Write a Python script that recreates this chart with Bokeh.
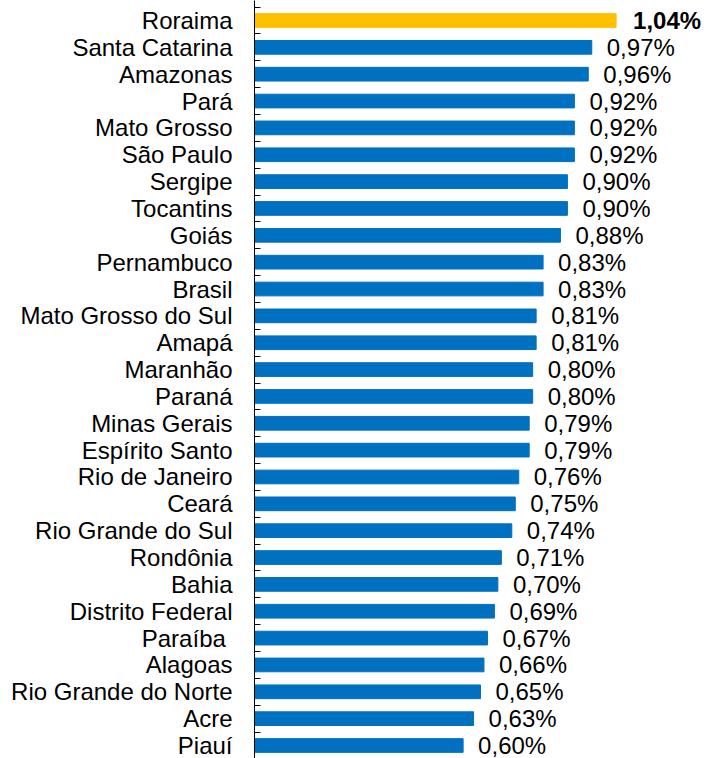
from bokeh.plotting import figure
from bokeh.models import Range1d, FixedTicker, ColumnDataSource
from bokeh.core.properties import value
from bokeh.embed import file_html
from bokeh.resources import INLINE

names = ["Roraima", "Santa Catarina", "Amazonas", "Pará", "Mato Grosso", "São Paulo",
         "Sergipe", "Tocantins", "Goiás", "Pernambuco", "Brasil", "Mato Grosso do Sul",
         "Amapá", "Maranhão", "Paraná", "Minas Gerais", "Espírito Santo", "Rio de Janeiro",
         "Ceará", "Rio Grande do Sul", "Rondônia", "Bahia", "Distrito Federal", "Paraíba ",
         "Alagoas", "Rio Grande do Norte", "Acre", "Piauí"]
values = [1.04, 0.97, 0.96, 0.92, 0.92, 0.92, 0.90, 0.90, 0.88, 0.83, 0.83, 0.81, 0.81, 0.80,
          0.80, 0.79, 0.79, 0.76, 0.75, 0.74, 0.71, 0.70, 0.69, 0.67, 0.66, 0.65, 0.63, 0.60]
highlight = "Roraima"

n = len(names)
ys = list(range(n))
labels = [f"{v:.2f}".replace(".", ",") + "%" for v in values]
colors = ["#FFC000" if nm == highlight else "#0070C0" for nm in names]
styles = ["bold" if nm == highlight else "normal" for nm in names]
offs = [17 if nm == highlight else 15 for nm in names]

src = ColumnDataSource(dict(y=ys, v=values, lbl=labels, c=colors, fs=styles, off=offs))

row_px = 26.85
x_px = 347.7
left = 254
W, H = 717, 758

p = figure(width=W, height=H, output_backend="svg", toolbar_location=None,
           x_range=Range1d(0, (W - left) / x_px),
           y_range=Range1d(n - 1 + 13 / row_px, -20 / row_px),
           min_border_left=left, min_border_right=0, min_border_top=0, min_border_bottom=0)
p.xaxis.visible = False
p.grid.visible = False
p.outline_line_color = None
p.background_fill_color = "white"

p.hbar(y="y", right="v", left=0, height=0.51, color="c", source=src)
p.text(x="v", y="y", text="lbl", source=src, x_offset="off", text_align="left",
       text_baseline="middle", text_font=value("Liberation Sans"), text_font_size="24px",
       text_font_style="fs", text_color="black")

ax = p.yaxis[0]
ax.ticker = FixedTicker(ticks=ys, minor_ticks=[i - 0.5 for i in range(n + 1)])
ax.major_label_overrides = {i: names[i] for i in ys}
ax.major_tick_line_color = None
ax.major_tick_in = 0
ax.major_tick_out = 0
ax.minor_tick_line_color = "black"
ax.minor_tick_in = 6
ax.minor_tick_out = 0
ax.axis_line_color = "black"
ax.axis_line_width = 1
ax.major_label_text_font = "Liberation Sans"
ax.major_label_text_font_size = "24px"
ax.major_label_text_color = "black"
ax.major_label_standoff = 22

open("out.html", "w").write(file_html(p, INLINE))
